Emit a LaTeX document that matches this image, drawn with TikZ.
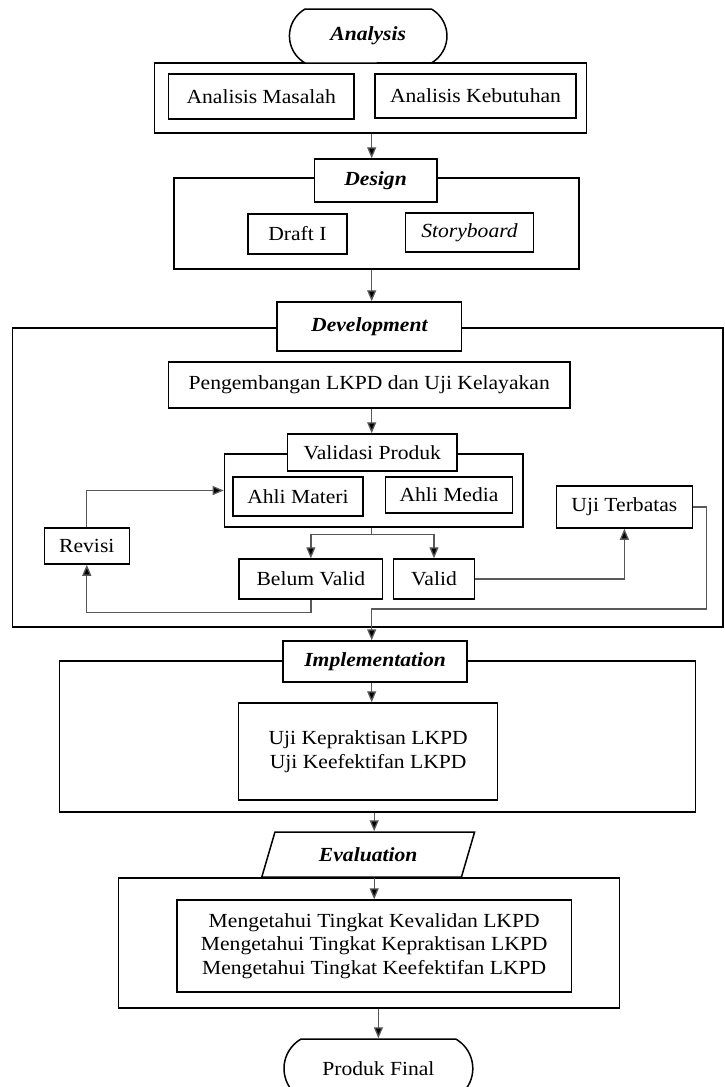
\documentclass[tikz,border=0pt]{standalone}
\usepackage{fontspec}
\setmainfont{Liberation Serif}[FakeStretch=1.08]
\usetikzlibrary{shapes.misc,shapes.geometric,arrows.meta,calc}
\begin{document}
\begin{tikzpicture}[x=1pt,y=-1pt,
  font=\fontsize{20}{23.5}\selectfont,
  box/.style={draw=black,line width=1.5pt,fill=white,inner sep=0pt,align=center},
  frame/.style={draw=black,line width=1.5pt,inner sep=0pt},
  arr/.style={draw=black!65,line width=1.3pt,-{Triangle[length=11pt,width=9pt,fill=black]}},
  ln/.style={draw=black!65,line width=1.3pt},
  lab/.style={font=\fontsize{20}{23.5}\selectfont\bfseries\itshape}]
\useasboundingbox[fill=white] (0,0) rectangle (724,1087);
\coordinate (ax) at (371.7,0);
% Analysis
\node[frame,minimum width=431.7pt,minimum height=70pt] (anOut) at (370.5,98) {};
\node[box,rounded rectangle,rounded rectangle arc length=120,minimum width=157.5pt,minimum height=54pt,lab] (anPill) at (368.2,36) {Analysis};
\node[box,minimum width=185.5pt,minimum height=45pt] (masalah) at (261.2,96.5) {Analisis Masalah};
\node[box,minimum width=201pt,minimum height=44pt] (kebutuhan) at (475.5,96) {Analisis Kebutuhan};
% Design
\node[frame,minimum width=405pt,minimum height=91pt] (deOut) at (376.5,223.5) {};
\node[box,minimum width=122.4pt,minimum height=43pt,lab] (deLab) at (375.6,180.5) {Design};
\node[box,minimum width=98.8pt,minimum height=40pt] (draft) at (297.4,234) {Draft I};
\node[box,minimum width=128.3pt,minimum height=39pt,font=\fontsize{20}{23.5}\selectfont\itshape] (story) at (469.5,232.5) {Storyboard};
% Development
\node[frame,minimum width=710.5pt,minimum height=299pt] (devOut) at (367.75,477.5) {};
\node[box,minimum width=184.7pt,minimum height=49pt,lab] (devLab) at (369.35,326.5) {Development};
\node[box,minimum width=401.5pt,minimum height=46pt] (peng) at (369.25,385) {Pengembangan LKPD dan Uji Kelayakan};
\node[frame,minimum width=298.6pt,minimum height=73pt] (valOut) at (373.7,490.5) {};
\node[box,minimum width=169.4pt,minimum height=37pt] (valLab) at (372.3,452.5) {Validasi Produk};
\node[box,minimum width=130pt,minimum height=39pt] (materi) at (298,496.5) {Ahli Materi};
\node[box,minimum width=127pt,minimum height=36pt] (media) at (449,495) {Ahli Media};
\node[box,minimum width=136.2pt,minimum height=42pt] (terbatas) at (624.4,507) {Uji Terbatas};
\node[box,minimum width=85pt,minimum height=36pt] (revisi) at (86.8,546) {Revisi};
\node[box,minimum width=143.7pt,minimum height=40pt] (belum) at (310.85,579) {Belum Valid};
\node[box,minimum width=81.2pt,minimum height=40pt] (valid) at (434,579) {Valid};
% Implementation
\node[frame,minimum width=635.7pt,minimum height=151pt] (imOut) at (377.45,736.5) {};
\node[box,minimum width=184.2pt,minimum height=41pt,lab] (imLab) at (375.1,661.5) {Implementation};
\node[box,minimum width=259pt,minimum height=97pt] (uji) at (368.2,751.5) {Uji Kepraktisan LKPD\\ Uji Keefektifan LKPD};
% Evaluation
\node[frame,minimum width=500.9pt,minimum height=130pt] (evOut) at (369.15,943) {};
\node[box,trapezium,trapezium left angle=47,trapezium right angle=133,trapezium stretches body,minimum width=212.8pt,minimum height=45pt,lab] (ev) at (368.2,854.5) {Evaluation};
\node[box,minimum width=394.8pt,minimum height=92pt] (evIn) at (374.2,946) {Mengetahui Tingkat Kevalidan LKPD\\ Mengetahui Tingkat Kepraktisan LKPD\\ Mengetahui Tingkat Keefektifan LKPD};
\node[box,rounded rectangle,rounded rectangle arc length=120,minimum width=188.8pt,minimum height=59pt] (final) at (378.4,1068.5) {Produk Final};
% connectors
\draw[arr] (anOut.south -| ax) -- (deLab.north -| ax);
\draw[arr] (deOut.south -| ax) -- (devLab.north -| ax);
\draw[arr] (peng.south -| ax) -- (valLab.north -| ax);
\coordinate (sp) at ($(valOut.south -| ax)+(0,7)$);
\draw[ln] (valOut.south -| ax) -- (sp);
\draw[arr] (sp) -| (belum.north);
\draw[arr] (sp) -| (valid.north);
\draw[arr] (belum.south) -- ++(0,13) -| (revisi.south);
\draw[arr] (revisi.north) |- (valOut.west);
\draw[arr] (valid.east) -| (terbatas.south);
\coordinate (jr) at (706.5,609);
\draw[arr] (terbatas.east) -| (jr) -| (imLab.north -| ax);
\draw[arr] (imLab.south -| ax) -- (uji.north -| ax);
\draw[arr] (imOut.south -| evIn.north) -- (ev.north -| evIn.north);
\draw[arr] (ev.south -| evIn.north) -- (evIn.north);
\draw[arr] (evOut.south -| final.north) -- (final.north);
\end{tikzpicture}
\end{document}
